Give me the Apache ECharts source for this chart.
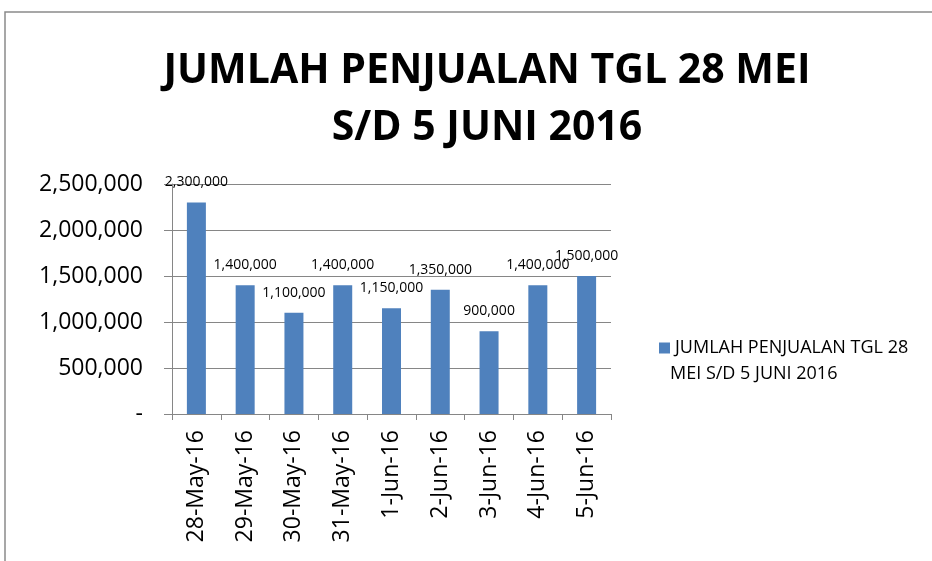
<!DOCTYPE html>
<html><head><meta charset="utf-8">
<script src="https://cdn.jsdelivr.net/npm/echarts@6/dist/echarts.min.js"></script>
<style>html,body{margin:0;padding:0;background:#fff}#c{width:932px;height:561px}</style>
</head><body><div id="c"></div>
<script>
const titleText = 'JUMLAH PENJUALAN TGL 28 MEI\nS/D 5 JUNI 2016';
const seriesName = 'JUMLAH PENJUALAN TGL 28 MEI S/D 5 JUNI 2016';
const legendLine1 = 'JUMLAH PENJUALAN TGL 28';
const legendLine2 = 'MEI S/D 5 JUNI 2016';
const categories = ['28-May-16','29-May-16','30-May-16','31-May-16','1-Jun-16','2-Jun-16','3-Jun-16','4-Jun-16','5-Jun-16'];
const values = [2300000,1400000,1100000,1400000,1150000,1350000,900000,1400000,1500000];
const yTicks = [0,500000,1000000,1500000,2000000,2500000];

const F = '"Open Sans", sans-serif';
const fmt = v => v === 0 ? '-' : v.toLocaleString('en-US');
const chart = echarts.init(document.getElementById('c'));
chart.setOption({
  animation:false,
  backgroundColor:'#fff',
  graphic:[
    {type:'rect',shape:{x:5,y:12,width:940,height:560},style:{fill:'none',stroke:'#8a8a8a',lineWidth:1.5},silent:true},
    {type:'text',left:670,top:365,style:{text:legendLine2,font:'18px "Open Sans", sans-serif',fill:'#000'},silent:true}
  ],
  title:{text:titleText,left:482,top:38,textAlign:'center',
    textStyle:{fontFamily:F,fontWeight:'bold',fontSize:41,lineHeight:57,color:'#000'}},
  legend:{orient:'vertical',left:654,top:334,itemWidth:11,itemHeight:11,itemGap:4,
    icon:'rect',
    formatter:()=> legendLine1,
    textStyle:{fontFamily:F,fontSize:18,color:'#000'}},
  grid:{left:172,right:321,top:184,bottom:147,containLabel:false},
  xAxis:{type:'category',data:categories,
    axisLine:{lineStyle:{color:'#868686'}},
    axisTick:{show:true,length:6,lineStyle:{color:'#868686'}},
    axisLabel:{rotate:90,margin:16,fontFamily:F,fontSize:23,color:'#000'}},
  yAxis:{type:'value',min:0,max:2500000,interval:500000,
    axisLine:{show:true,lineStyle:{color:'#868686'}},
    axisTick:{show:true,length:8,lineStyle:{color:'#868686'}},
    splitLine:{lineStyle:{color:'#868686'}},
    axisLabel:{margin:29,fontFamily:F,fontSize:23,color:'#000',formatter:fmt}},
  series:[{name:seriesName,type:'bar',data:values,barWidth:19,
    itemStyle:{color:'#4F81BD'},
    label:{show:true,position:'top',distance:13,fontFamily:F,fontSize:14,color:'#000',
      formatter:p=>p.value.toLocaleString('en-US')}}]
});
</script></body></html>
